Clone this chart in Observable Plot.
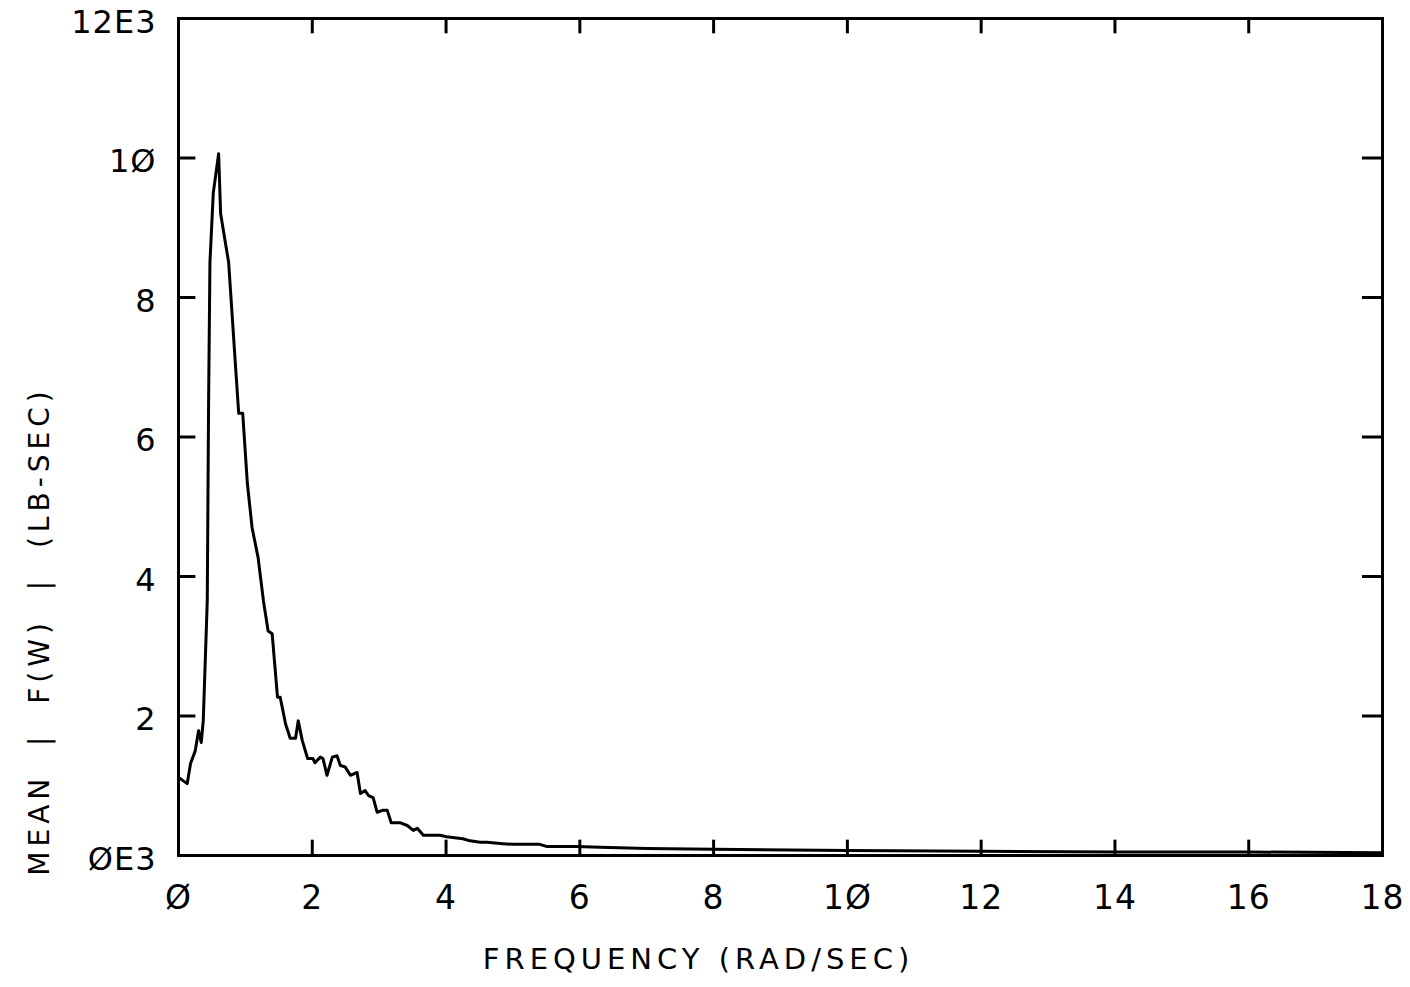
<!DOCTYPE html>
<html>
<head>
<meta charset="utf-8">
<script src="https://cdn.jsdelivr.net/npm/d3@7"></script>
<script src="https://cdn.jsdelivr.net/npm/@observablehq/plot@0.6"></script>
<style>
  html, body { margin: 0; padding: 0; background: white; }
  svg text { letter-spacing: 1px; }
  svg .title text { letter-spacing: 5px; }
</style>
</head>
<body>
<div id="chart"></div>
<script>
// Frequency (rad/sec)
const freq = [0.00,0.13,0.18,0.25,0.30,0.34,0.37,0.43,0.45,0.47,0.52,0.60,0.63,0.75,0.85,0.90,0.96,1.03,1.10,1.19,1.27,1.34,1.40,1.48,1.52,1.60,1.67,1.75,1.79,1.85,1.93,2.01,2.04,2.12,2.16,2.22,2.30,2.37,2.42,2.49,2.57,2.67,2.72,2.79,2.84,2.91,2.97,3.06,3.12,3.18,3.31,3.42,3.51,3.57,3.66,3.91,4.01,4.25,4.36,4.51,4.61,4.85,5.00,5.40,5.50,5.95,6.30,7.00,8.00,10.00,12.00,14.00,16.00,18.00];
// Mean |F(W)| (thousand lb-sec)
const amp = [1.12,1.03,1.32,1.50,1.79,1.62,1.93,3.65,6.50,8.50,9.50,10.06,9.20,8.50,7.05,6.34,6.34,5.33,4.70,4.27,3.65,3.22,3.18,2.27,2.27,1.89,1.68,1.68,1.93,1.65,1.39,1.39,1.33,1.41,1.39,1.15,1.41,1.43,1.29,1.27,1.15,1.19,0.89,0.93,0.86,0.83,0.62,0.65,0.65,0.47,0.47,0.43,0.36,0.39,0.29,0.29,0.27,0.24,0.21,0.19,0.19,0.17,0.16,0.16,0.13,0.13,0.12,0.10,0.09,0.07,0.06,0.05,0.05,0.04];

const xTicks = [0,2,4,6,8,10,12,14,16,18];
const xInnerTicks = [2,4,6,8,10,12,14,16];
const yTicks = [0,2,4,6,8,10,12];
const yInnerTicks = [2,4,6,8,10];
const xTickLabels = ["Ø","2","4","6","8","1Ø","12","14","16","18"];
const yTickLabels = ["ØE3","2","4","6","8","1Ø","12E3"];
const xTitle = "FREQUENCY (RAD/SEC)";
const yTitle = "MEAN\u00A0\u00A0|\u00A0\u00A0F(W)\u00A0\u00A0|\u00A0\u00A0(LB-SEC)";

const data = freq.map((f, i) => ({f, a: amp[i]}));
const fmtX = d => xTickLabels[xTicks.indexOf(d)];
const fmtY = d => yTickLabels[yTicks.indexOf(d)];

const chart = Plot.plot({
  width: 1410,
  height: 987,
  marginLeft: 178,
  marginRight: 28,
  marginTop: 18,
  marginBottom: 132,
  x: {domain: [0, 18]},
  y: {domain: [0, 12]},
  style: {fontFamily: "DejaVu Sans", color: "black", background: "white", overflow: "visible"},
  marks: [
    Plot.frame({stroke: "black", strokeWidth: 3}),
    Plot.axisX(xTicks, {tickSize: 0, tickPadding: 30, tickFormat: fmtX, label: null, fontSize: 33}),
    Plot.axisY(yTicks, {tickSize: 0, tickPadding: 22, tickFormat: fmtY, label: null, fontSize: 32, dy: 4}),
    Plot.ruleX(xInnerTicks, {x: d => d, y1: 0, y2: 0.22, stroke: "black", strokeWidth: 3}),
    Plot.ruleX(xInnerTicks, {x: d => d, y1: 12, y2: 11.78, stroke: "black", strokeWidth: 3}),
    Plot.ruleY(yInnerTicks, {y: d => d, x1: 0, x2: 0.26, stroke: "black", strokeWidth: 3}),
    Plot.ruleY(yInnerTicks, {y: d => d, x1: 18, x2: 17.7, stroke: "black", strokeWidth: 3}),
    Plot.line(data, {x: "f", y: "a", stroke: "black", strokeWidth: 3}),
    Plot.text([xTitle], {frameAnchor: "bottom", textAnchor: "middle", dx: -82, dy: 113, fontSize: 29, className: "title"}),
    Plot.text([yTitle], {frameAnchor: "left", textAnchor: "middle", rotate: -90, dx: -138, dy: 194, fontSize: 28, className: "title"})
  ]
});
document.getElementById("chart").appendChild(chart);
</script>
</body>
</html>
